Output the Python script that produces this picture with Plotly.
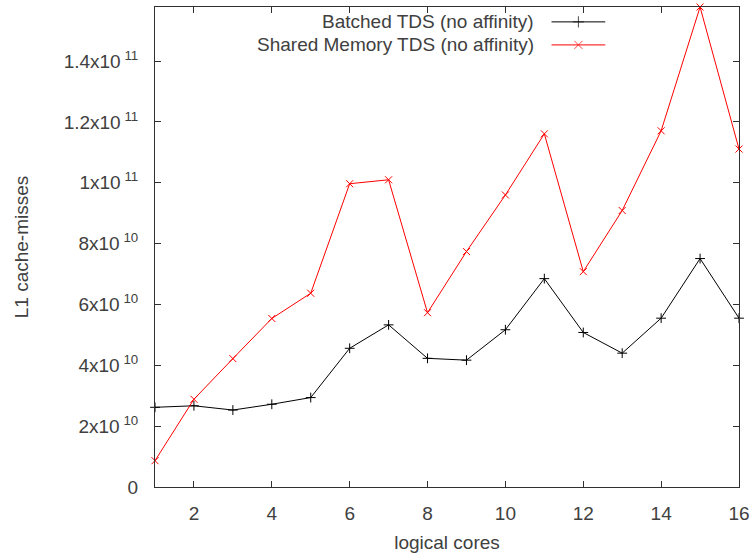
import plotly.graph_objects as go

# L1 cache misses per logical core count
cores = list(range(1, 17))
batched = [2.62e10, 2.67e10, 2.53e10, 2.72e10, 2.94e10, 4.56e10, 5.33e10, 4.23e10,
           4.17e10, 5.17e10, 6.85e10, 5.08e10, 4.40e10, 5.55e10, 7.51e10, 5.55e10]
shared = [8.65e9, 2.885e10, 4.22e10, 5.54e10, 6.37e10, 9.97e10, 1.01e11, 5.73e10,
          7.74e10, 9.60e10, 1.161e11, 7.08e10, 9.09e10, 1.171e11, 1.578e11, 1.111e11]

series_names = ["Batched TDS (no affinity)", "Shared Memory TDS (no affinity)"]
series_colors = ["#000000", "#ff0000"]
series_symbols = ["cross-thin", "x-thin"]

x_ticks = list(range(2, 17, 2))
y_ticks = [0, 2e10, 4e10, 6e10, 8e10, 1e11, 1.2e11, 1.4e11]
y_tick_text = ["0", "2x10<sup> 10</sup>", "4x10<sup> 10</sup>", "6x10<sup> 10</sup>",
               "8x10<sup> 10</sup>", "1x10<sup> 11</sup>", "1.2x10<sup> 11</sup>",
               "1.4x10<sup> 11</sup>"]

FONT = "Liberation Sans, Arial, sans-serif"
TEXT = "#404040"
FRAME = "#303030"

fig = go.Figure()
for ys, name, col, sym in zip([batched, shared], series_names, series_colors, series_symbols):
    fig.add_trace(go.Scatter(
        x=cores, y=ys, name=name, mode="lines+markers",
        line=dict(color=col, width=1),
        marker=dict(symbol=sym, size=7, line=dict(color=col, width=1), color=col),
        showlegend=False, cliponaxis=False,
    ))

# key drawn gnuplot-style: right-aligned label followed by a line sample
key_rows = [0.969, 0.921]
key_x0, key_x1 = 0.679, 0.771
for row_y, name, col, sym in zip(key_rows, series_names, series_colors, series_symbols):
    fig.add_trace(go.Scatter(
        x=[key_x0, (key_x0 + key_x1) / 2, key_x1], y=[row_y] * 3,
        xaxis="x2", yaxis="y2", mode="lines+markers",
        line=dict(color=col, width=1),
        marker=dict(symbol=sym, size=[0, 8, 0], line=dict(color=col, width=1), color=col),
        showlegend=False, hoverinfo="skip",
    ))
    fig.add_annotation(x=key_x0 - 0.026, y=row_y, xref="x2", yref="y2", text=name,
                       showarrow=False, xanchor="right", yanchor="middle",
                       font=dict(family=FONT, size=19, color=TEXT))

axis_common = dict(
    showgrid=False, zeroline=False, showline=True, linecolor=FRAME, linewidth=1,
    mirror="ticks", ticks="inside", ticklen=6, tickcolor=FRAME, tickwidth=1,
    tickfont=dict(family=FONT, size=19, color=TEXT), automargin=False,
)

fig.update_layout(
    width=752, height=559,
    margin=dict(l=155, r=13, t=7, b=72),
    paper_bgcolor="white", plot_bgcolor="white",
    xaxis=dict(range=[1, 16], tickvals=x_ticks, ticklabelstandoff=9,
               title=dict(text="logical cores", standoff=12,
                          font=dict(family=FONT, size=19, color=TEXT)),
               **axis_common),
    yaxis=dict(range=[0, max(shared)], tickvals=y_ticks, ticktext=y_tick_text,
               ticklabelstandoff=12,
               title=dict(text="L1 cache-misses", standoff=30,
                          font=dict(family=FONT, size=19, color=TEXT)),
               **axis_common),
    xaxis2=dict(overlaying="x", range=[0, 1], visible=False, fixedrange=True),
    yaxis2=dict(overlaying="y", range=[0, 1], visible=False, fixedrange=True),
)

fig.write_html("out.html")
